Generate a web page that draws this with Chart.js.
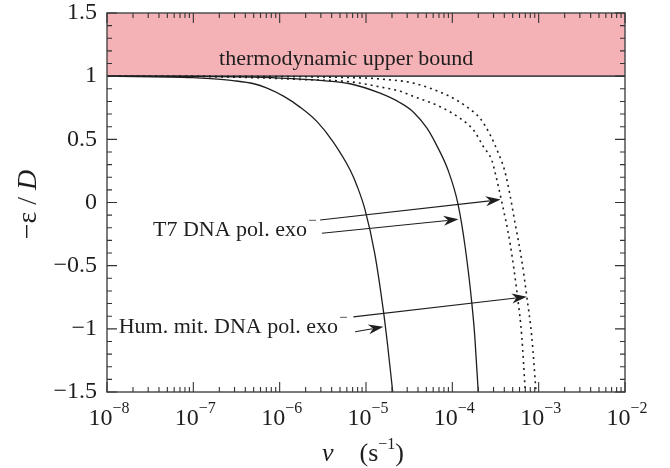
<!DOCTYPE html>
<html>
<head>
<meta charset="utf-8">
<script src="https://cdn.jsdelivr.net/npm/chart.js@4.4.1/dist/chart.umd.min.js"></script>
<style>
  html, body { margin: 0; padding: 0; background: #fff; }
  #wrap { width: 670px; height: 468px; }
</style>
</head>
<body>
<div id="wrap"><canvas id="chart" width="670" height="468"></canvas></div>
<script>
// values: rate v (s^-1) against -eps/D
const humSolidV = [1e-8, 1e-7, 1.585e-7, 2.88e-7, 5.01e-7, 7.14e-7, 1.12e-6, 1.72e-6, 2.71e-6, 4.16e-6, 6.55e-6, 7.94e-6, 9.77e-6, 1.26e-5, 1.585e-5, 1.78e-5, 2.04e-5];
const humSolidY = [1.0, 0.989, 0.981, 0.965, 0.94, 0.905, 0.84, 0.755, 0.64, 0.48, 0.257, 0.125, -0.06, -0.40, -0.85, -1.13, -1.5];

const t7SolidV = [1e-8, 1e-7, 3.16e-7, 1e-6, 3.16e-6, 6.55e-6, 1.455e-5, 2.48e-5, 3.55e-5, 5.06e-5, 6.61e-5, 8.91e-5, 1.159e-4, 1.413e-4, 1.683e-4, 1.82e-4, 1.995e-4];
const t7SolidY = [1.0, 0.998, 0.994, 0.985, 0.965, 0.94, 0.865, 0.79, 0.715, 0.59, 0.45, 0.257, -0.007, -0.36, -0.798, -1.06, -1.5];

const t7DottedV = [1e-8, 1e-7, 3.98e-7, 1.585e-6, 6.61e-6, 1.455e-5, 2.51e-5, 3.55e-5, 7.24e-5, 1.23e-4, 1.754e-4, 2.29e-4, 2.88e-4, 3.16e-4, 3.67e-4, 4.68e-4, 5.69e-4, 6.38e-4, 7.0e-4];
const t7DottedY = [1.0, 0.998, 0.99, 0.975, 0.955, 0.915, 0.88, 0.84, 0.758, 0.666, 0.574, 0.442, 0.33, 0.225, 0.03, -0.33, -0.746, -1.063, -1.5];

const humDottedV = [1e-8, 1e-7, 1e-6, 3.16e-6, 1e-5, 1.455e-5, 3.55e-5, 8.63e-5, 1.122e-4, 1.479e-4, 2.10e-4, 2.75e-4, 3.42e-4, 4.02e-4, 4.68e-4, 5.35e-4, 6.31e-4, 7.29e-4, 8.32e-4, 9.33e-4];
const humDottedY = [1.0, 0.999, 0.997, 0.993, 0.985, 0.978, 0.945, 0.851, 0.81, 0.755, 0.666, 0.534, 0.389, 0.257, 0.05, -0.17, -0.44, -0.746, -1.063, -1.5];

const xTickExponents = [-8, -7, -6, -5, -4, -3, -2];
const yMin = -1.5, yMax = 1.5, yStep = 0.5;
const boundLow = 1, boundHigh = 1.5;

const bandLabel = 'thermodynamic upper bound';
const t7Label = 'T7 DNA pol. exo';
const humLabel = 'Hum. mit. DNA pol. exo';

// annotation anchors, in data units [v, y]
const bandLabelAt = [5.89e-6, 1.088];
const t7LabelAt = [2.07e-6, -0.266];
const humLabelAt = [4.75e-6, -1.034];
const arrows = [
  { from: [2.94e-6, -0.139], to: [3.63e-4, 0.023] },
  { from: [3.08e-6, -0.244], to: [1.178e-4, -0.133] },
  { from: [7.14e-6, -0.905], to: [7.29e-4, -0.746] },
  { from: [7.48e-6, -1.023], to: [1.59e-5, -0.984] },
];

const SERIF = '"Liberation Serif", "Times New Roman", serif';
const INK = '#1e1e1e';
const BAND = '#f4b1b6';
const FRAME = '#505050';

const pts = (vs, ys) => vs.map((v, i) => ({ x: v, y: ys[i] }));

function drawArrow(ctx, x0, y0, x1, y1) {
  const ang = Math.atan2(y1 - y0, x1 - x0);
  ctx.save();
  ctx.strokeStyle = INK;
  ctx.lineWidth = 1.1;
  ctx.beginPath();
  ctx.moveTo(x0, y0);
  ctx.lineTo(x1 - 11 * Math.cos(ang), y1 - 11 * Math.sin(ang));
  ctx.stroke();
  ctx.translate(x1, y1);
  ctx.rotate(ang);
  ctx.fillStyle = INK;
  ctx.beginPath();
  ctx.moveTo(0, 0);
  ctx.lineTo(-15, -5);
  ctx.lineTo(-10.5, 0);
  ctx.lineTo(-15, 5);
  ctx.closePath();
  ctx.fill();
  ctx.restore();
}

// text pieces: [string, size, italic, raise]
function setFont(ctx, p) {
  ctx.font = (p[2] ? 'italic ' : '') + p[1] + 'px ' + SERIF;
}
function piecesWidth(ctx, pieces) {
  return pieces.reduce((s, p) => { setFont(ctx, p); return s + ctx.measureText(p[0]).width; }, 0);
}
function drawPieces(ctx, pieces, x, y) {
  pieces.forEach((p) => {
    setFont(ctx, p);
    ctx.fillText(p[0], x, y - (p[3] || 0));
    x += ctx.measureText(p[0]).width;
  });
}

const decor = {
  id: 'decor',
  beforeDatasetsDraw(chart) {
    const { ctx, chartArea: a, scales: { x: xs, y: ys } } = chart;
    const top = ys.getPixelForValue(boundHigh);
    const low = ys.getPixelForValue(boundLow);
    ctx.save();
    ctx.fillStyle = BAND;
    ctx.fillRect(a.left, top, a.right - a.left, low - top);
    ctx.strokeStyle = '#4a4a4a';
    ctx.lineWidth = 1.6;
    ctx.beginPath();
    ctx.moveTo(a.left, low);
    ctx.lineTo(a.right, low);
    ctx.stroke();
    ctx.fillStyle = INK;
    ctx.font = '22px ' + SERIF;
    ctx.textAlign = 'center';
    ctx.textBaseline = 'alphabetic';
    ctx.fillText(bandLabel, xs.getPixelForValue(bandLabelAt[0]), ys.getPixelForValue(bandLabelAt[1]));
    ctx.restore();
  },
  afterDatasetsDraw(chart) {
    const { ctx, chartArea: a, scales: { x: xs, y: ys } } = chart;
    ctx.save();

    // frame
    ctx.strokeStyle = FRAME;
    ctx.lineWidth = 1.5;
    ctx.strokeRect(a.left, a.top, a.right - a.left, a.bottom - a.top);

    // inward ticks
    const lastExp = xTickExponents[xTickExponents.length - 1];
    ctx.lineWidth = 1.1;
    ctx.strokeStyle = '#333';
    ctx.beginPath();
    for (let e = xTickExponents[0]; e <= lastExp; e++) {
      for (let m = 1; m <= 9; m++) {
        if (e === lastExp && m > 1) break;
        const px = xs.getPixelForValue(m * Math.pow(10, e));
        const len = m === 1 ? 10 : 5;
        ctx.moveTo(px, a.bottom); ctx.lineTo(px, a.bottom - len);
        ctx.moveTo(px, a.top); ctx.lineTo(px, a.top + len);
      }
    }
    for (let i = 0; i <= Math.round((yMax - yMin) / 0.1); i++) {
      const py = ys.getPixelForValue(yMin + i * 0.1);
      const len = i % 5 === 0 ? 10 : 5;
      ctx.moveTo(a.left, py); ctx.lineTo(a.left + len, py);
      ctx.moveTo(a.right, py); ctx.lineTo(a.right - len, py);
    }
    ctx.stroke();

    // x tick labels 10^n
    ctx.fillStyle = INK;
    ctx.textAlign = 'left';
    ctx.textBaseline = 'alphabetic';
    xTickExponents.forEach((e) => {
      const px = xs.getPixelForValue(Math.pow(10, e));
      const pieces = [['10', 24, false, 0], ['\u2212' + Math.abs(e), 16, false, 12]];
      const w = piecesWidth(ctx, pieces);
      drawPieces(ctx, pieces, px - w / 2 + 2, a.bottom + 33);
    });

    // x axis title
    const xt = [['v', 26, true, 0], ['\u2003(s', 26, false, 0], ['\u22121', 16, false, 12], [')', 26, false, 0]];
    const xw = piecesWidth(ctx, xt);
    drawPieces(ctx, xt, (a.left + a.right) / 2 - xw / 2 - 3, a.bottom + 69);

    // y axis title, rotated
    ctx.save();
    ctx.translate(36, (a.top + a.bottom) / 2);
    ctx.rotate(-Math.PI / 2);
    const yt = [['\u2212\u03b5 / ', 28, false, 0], ['D', 28, true, 0]];
    const yw = piecesWidth(ctx, yt);
    drawPieces(ctx, yt, -yw / 2 - 2, 0);
    ctx.restore();

    // arrows
    arrows.forEach((ar) => {
      drawArrow(ctx,
        xs.getPixelForValue(ar.from[0]), ys.getPixelForValue(ar.from[1]),
        xs.getPixelForValue(ar.to[0]), ys.getPixelForValue(ar.to[1]));
    });

    // curve labels with superscript minus
    [[t7Label, t7LabelAt], [humLabel, humLabelAt]].forEach(([txt, at]) => {
      const px = xs.getPixelForValue(at[0]);
      const py = ys.getPixelForValue(at[1]);
      ctx.font = '22px ' + SERIF;
      const w = ctx.measureText(txt).width;
      ctx.fillText(txt, px - w, py);
      ctx.font = '15px ' + SERIF;
      ctx.fillText('\u2212', px + 1, py - 11);
    });

    ctx.restore();
  },
};

new Chart(document.getElementById('chart'), {
  type: 'line',
  data: {
    datasets: [
      { data: pts(humSolidV, humSolidY), borderColor: INK, borderWidth: 1.3 },
      { data: pts(t7SolidV, t7SolidY), borderColor: INK, borderWidth: 1.3 },
      { data: pts(t7DottedV, t7DottedY), borderColor: INK, borderWidth: 1.6, borderDash: [2, 4] },
      { data: pts(humDottedV, humDottedY), borderColor: INK, borderWidth: 1.6, borderDash: [2, 4] },
    ],
  },
  options: {
    responsive: false,
    animation: false,
    devicePixelRatio: 1,
    layout: { padding: { left: 0, right: 45, top: 13, bottom: 76 } },
    elements: {
      point: { radius: 0 },
      line: { cubicInterpolationMode: 'monotone', fill: false },
    },
    plugins: { legend: { display: false }, tooltip: { enabled: false } },
    scales: {
      x: {
        type: 'logarithmic',
        min: Math.pow(10, xTickExponents[0]),
        max: Math.pow(10, xTickExponents[xTickExponents.length - 1]),
        ticks: { display: false },
        grid: { display: false, drawTicks: false },
        border: { display: false },
        afterFit: (s) => { s.height = 0; },
      },
      y: {
        min: yMin,
        max: yMax,
        ticks: {
          stepSize: yStep,
          color: INK,
          padding: 10,
          font: { family: SERIF, size: 24 },
          callback: (v) => String(v).replace('-', '\u2212'),
        },
        grid: { display: false, drawTicks: false },
        border: { display: false },
        afterFit: (s) => { s.width = 107; s.paddingTop = 0; s.paddingBottom = 0; },
      },
    },
  },
  plugins: [decor],
});
</script>
</body>
</html>
